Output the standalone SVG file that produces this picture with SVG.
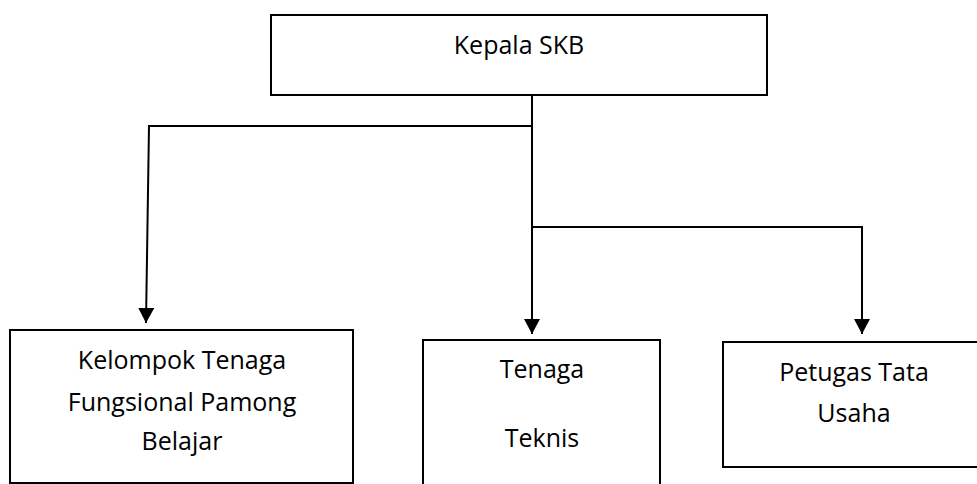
<svg xmlns="http://www.w3.org/2000/svg" width="977" height="484" viewBox="0 0 977 484">
<style>
  .box { fill: #ffffff; stroke: #000000; stroke-width: 2; }
  .lbl { font-family: "Open Sans", "Noto Sans", "DejaVu Sans", sans-serif; font-size: 25px; fill: #000000; text-anchor: middle; }
  .conn { fill: none; stroke: #000000; stroke-width: 2; }
</style>
<defs>
  <marker id="arrow" markerUnits="userSpaceOnUse" markerWidth="16" markerHeight="16" refX="15" refY="8" orient="auto">
    <path d="M0,0 L15,8 L0,16 Z" fill="#000000"/>
  </marker>
</defs>
<rect width="977" height="484" fill="#ffffff"/>
<g id="connectors">
  <path class="conn" d="M532,95 L532,334" marker-end="url(#arrow)"/>
  <path class="conn" d="M532,126 L149,126 L146,323" marker-end="url(#arrow)"/>
  <path class="conn" d="M532,227 L862,227 L862,334" marker-end="url(#arrow)"/>
</g>
<g id="kepala">
  <rect class="box" x="271" y="15" width="496" height="80"/>
  <text class="lbl" x="519" y="54">Kepala SKB</text>
</g>
<g id="kelompok">
  <rect class="box" x="10" y="330" width="343" height="153"/>
  <text class="lbl" x="182" y="369">Kelompok Tenaga</text>
  <text class="lbl" x="182" y="411">Fungsional Pamong</text>
  <text class="lbl" x="182" y="450">Belajar</text>
</g>
<g id="teknis">
  <rect class="box" x="423" y="340" width="237" height="150"/>
  <text class="lbl" x="542" y="378">Tenaga</text>
  <text class="lbl" x="542" y="447">Teknis</text>
</g>
<g id="tatausaha">
  <rect class="box" x="723" y="342" width="260" height="125"/>
  <text class="lbl" x="854" y="381">Petugas Tata</text>
  <text class="lbl" x="854" y="422">Usaha</text>
</g>
</svg>
